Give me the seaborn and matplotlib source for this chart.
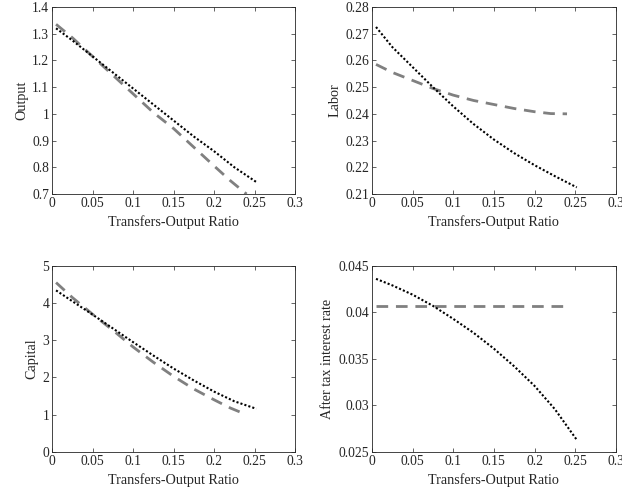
import numpy as np
import pandas as pd
import matplotlib
matplotlib.use("Agg")
import matplotlib.pyplot as plt
import matplotlib.ticker as mticker
import seaborn as sns

# transfers-output ratio grids (dotted and dashed runs)
x_dot = [0.005, 0.025, 0.05, 0.075, 0.1, 0.125, 0.15, 0.175, 0.2, 0.225, 0.252]
x_dash = [0.005, 0.025, 0.05, 0.075, 0.1, 0.125, 0.15, 0.175, 0.2, 0.22, 0.24]

output_dot = [1.32, 1.275, 1.215, 1.155, 1.095, 1.035, 0.975, 0.915, 0.86, 0.80, 0.745]
output_dash = [1.335, 1.285, 1.215, 1.145, 1.075, 1.005, 0.945, 0.875, 0.805, 0.75, 0.70]

labor_dot = [0.2725, 0.265, 0.2575, 0.250, 0.2428, 0.2362, 0.2304, 0.2253, 0.2208, 0.2167, 0.2125]
labor_dash = [0.2585, 0.2555, 0.2525, 0.2495, 0.247, 0.245, 0.2435, 0.242, 0.2408, 0.2401, 0.2400]

capital_dot = [4.34, 4.05, 3.69, 3.32, 2.95, 2.59, 2.24, 1.92, 1.62, 1.36, 1.16]
capital_dash = [4.55, 4.15, 3.70, 3.27, 2.82, 2.41, 2.03, 1.69, 1.40, 1.18, 1.00]

rate_dot = [0.0436, 0.0429, 0.0419, 0.0407, 0.0393, 0.0378, 0.0361, 0.0342, 0.0321, 0.0296, 0.0263]
rate_dash = [0.04071] * 11

panels = [
    ("Output", output_dot, output_dash, (0.7, 1.4), np.arange(0.7, 1.41, 0.1)),
    ("Labor", labor_dot, labor_dash, (0.21, 0.28), np.arange(0.21, 0.281, 0.01)),
    ("Capital", capital_dot, capital_dash, (0, 5), np.arange(0, 5.1, 1)),
    ("After tax interest rate", rate_dot, rate_dash, (0.025, 0.045), np.arange(0.025, 0.0451, 0.005)),
]

sns.set_style("ticks")
plt.rcParams["font.family"] = ["Liberation Serif", "DejaVu Serif"]
plt.rcParams["font.size"] = 9.8
plt.rcParams["xtick.direction"] = "in"
plt.rcParams["ytick.direction"] = "in"

fig = plt.figure(figsize=(6.22, 4.95), dpi=100)
positions = [
    [0.0836, 0.608, 0.391, 0.378],
    [0.598, 0.608, 0.392, 0.378],
    [0.0836, 0.087, 0.391, 0.376],
    [0.598, 0.087, 0.392, 0.376],
]

for pos, (name, ydot, ydash, ylim, yticks) in zip(positions, panels):
    ax = fig.add_axes(pos)
    d1 = pd.DataFrame({"x": x_dash, "y": ydash})
    d2 = pd.DataFrame({"x": x_dot, "y": ydot})
    sns.lineplot(data=d1, x="x", y="y", ax=ax, color="#808080", linewidth=2.0,
                 linestyle=(0, (4.2, 2.8)))
    sns.lineplot(data=d2, x="x", y="y", ax=ax, color="black", linewidth=1.5,
                 linestyle=(0, (1.0, 1.0)))
    ax.set_xlim(0, 0.3)
    ax.set_ylim(*ylim)
    ax.set_xticks(np.arange(0, 0.301, 0.05))
    ax.set_yticks(yticks)
    fmt = mticker.FuncFormatter(lambda v, p: "%g" % round(v, 4))
    ax.xaxis.set_major_formatter(fmt)
    ax.yaxis.set_major_formatter(fmt)
    ax.set_xlabel("Transfers-Output Ratio", labelpad=4, fontsize=10.2)
    ax.set_ylabel(name, labelpad=3, fontsize=10.2)
    ax.tick_params(top=True, right=True, length=3, width=0.5, colors="#262626", pad=2)
    for s in ax.spines.values():
        s.set_linewidth(0.6)
        s.set_color("#262626")

fig.savefig("out.png", dpi=100)
